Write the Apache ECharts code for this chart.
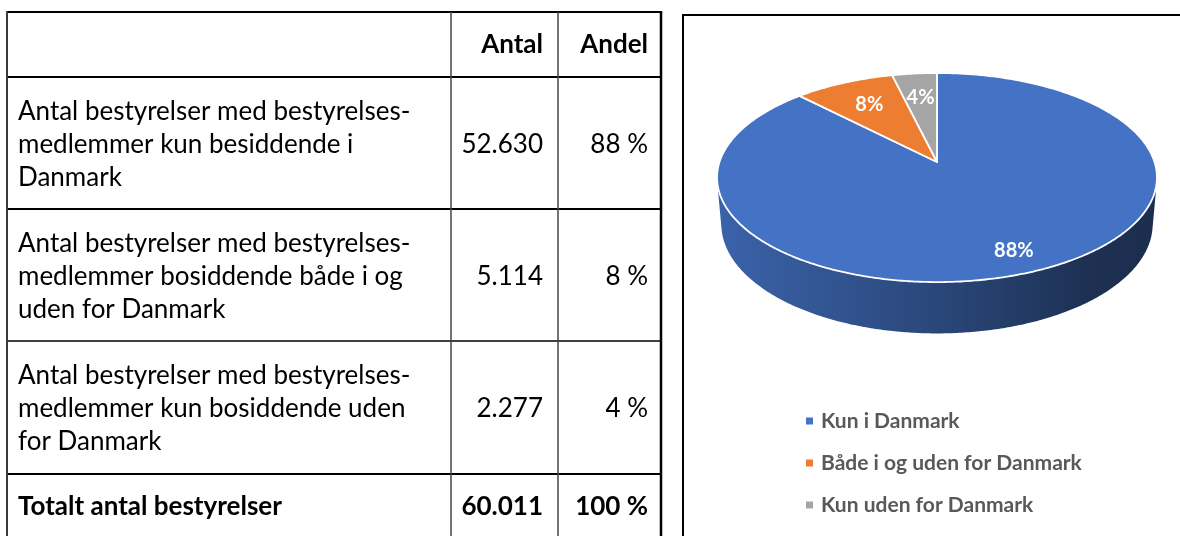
<!DOCTYPE html>
<html><head><meta charset="utf-8">
<script src="https://cdn.jsdelivr.net/npm/echarts@6/dist/echarts.min.js"></script>
<style>html,body{margin:0;padding:0;background:#fff}#c{width:1180px;height:536px}</style>
</head><body><div id="c"></div>
<script>
// ---------- data ----------
const headers = ["Antal", "Andel"];
const rowLabels = [
  "Antal bestyrelser med bestyrelses-\nmedlemmer kun besiddende i\nDanmark",
  "Antal bestyrelser med bestyrelses-\nmedlemmer bosiddende både i og\nuden for Danmark",
  "Antal bestyrelser med bestyrelses-\nmedlemmer kun bosiddende uden\nfor Danmark"
];
const counts = [52630, 5114, 2277];
const shares = [88, 8, 4];
const totalLabel = "Totalt antal bestyrelser";
const totalCount = 60011;
const totalShare = 100;
const categories = ["Kun i Danmark", "Både i og uden for Danmark", "Kun uden for Danmark"];
const colors = ["#4472C4", "#ED7D31", "#A5A5A5"];

// ---------- helpers ----------
const fmt = n => String(n).replace(/\B(?=(\d{3})+(?!\d))/g, ".");
const FONT = "Lato";
const TS = 26;
function shade(hex, f) {
  const n = parseInt(hex.slice(1), 16);
  const r = Math.round(((n >> 16) & 255) * f), g = Math.round(((n >> 8) & 255) * f), b = Math.round((n & 255) * f);
  return "rgb(" + r + "," + g + "," + b + ")";
}

// ---------- table (graphic) ----------
const colX = [7, 451, 558, 661];
const rowY = [12, 77, 209, 341, 474];
const gfx = [];
function line(x1, y1, x2, y2, w, c) {
  gfx.push({ type: "line", shape: { x1, y1, x2, y2 }, style: { stroke: c, lineWidth: w }, silent: true });
}
function text(t, x, y, opt) {
  gfx.push({ type: "text", x, y, silent: true, style: Object.assign({
    text: t, fill: "#000", font: TS + "px " + FONT, align: "left", verticalAlign: "middle", lineHeight: 33
  }, opt || {}) });
}
line(colX[0], rowY[0], colX[3] + 1, rowY[0], 2, "#000");
line(colX[0], rowY[1], colX[3] + 1, rowY[1], 2, "#000");
line(colX[0], rowY[2], colX[3] + 1, rowY[2], 2, "#000");
line(colX[0], rowY[3], colX[3] + 1, rowY[3], 1.5, "#000");
line(colX[0], rowY[4], colX[3] + 1, rowY[4], 2, "#000");
line(colX[0], rowY[0] - 1, colX[0], 545, 2, "#3a3a3a");
line(colX[1], rowY[0], colX[1], 545, 1.5, "#444");
line(colX[2], rowY[0], colX[2], 545, 1.5, "#444");
line(colX[3], rowY[0] - 1, colX[3], 545, 2.5, "#000");
// chart frame
gfx.push({ type: "rect", shape: { x: 683, y: 15, width: 520, height: 540 }, style: { fill: "none", stroke: "#000", lineWidth: 2 }, silent: true });

const numRight = 543, pctRight = 648;
const BOLD = "bold " + TS + "px " + FONT;
text(headers[0], numRight, 45, { font: BOLD, align: "right" });
text(headers[1], pctRight, 45, { font: BOLD, align: "right" });
for (let i = 0; i < rowLabels.length; i++) {
  const cy = (rowY[i + 1] + rowY[i + 2]) / 2 + 1.5;
  text(rowLabels[i], 18, cy);
  text(fmt(counts[i]), numRight, cy, { align: "right" });
  text(shares[i] + " %", pctRight, cy, { align: "right" });
}
text(totalLabel, 18, 507, { font: BOLD });
text(fmt(totalCount), numRight, 507, { font: BOLD, align: "right" });
text(totalShare + " %", pctRight, 507, { font: BOLD, align: "right" });

// ---------- 3D-looking pie (custom series) ----------
const P = { cx: 937, cy: 162, F: 1292, D: 5.94, sa: 0.47, h: 0.245 };
P.ca = Math.sqrt(1 - P.sa * P.sa);
function proj(u, v, z) {
  const depth = P.D + v * P.ca - z * P.sa;
  return [P.cx + P.F * u / depth, P.cy - P.F * (v * P.sa + z * P.ca) / depth];
}
const rim = (th, z) => proj(Math.sin(th), Math.cos(th), z);
const total = counts.reduce((a, b) => a + b, 0);
const starts = [];
{ let acc = 0; counts.forEach(v => { starts.push(acc / total * 2 * Math.PI); acc += v; }); }
const visA = Math.acos(-1 / (P.D * P.ca)), visB = 2 * Math.PI - visA;
const left = rim(-Math.PI / 2, 0)[0] - 5, right = rim(Math.PI / 2, 0)[0] + 5;

function sample(a, b, z) {
  const n = Math.max(2, Math.ceil((b - a) / 0.01));
  const pts = [];
  for (let k = 0; k <= n; k++) pts.push(rim(a + (b - a) * k / n, z));
  return pts;
}

function makeRender(i) {
  return function (params, api) {
    const a0 = starts[i], a1 = a0 + counts[i] / total * 2 * Math.PI;
    const children = [];
    const s0 = Math.max(a0, visA), s1 = Math.min(a1, visB);
    if (s1 > s0) {
      const top = sample(s0, s1, 0), bot = sample(s0, s1, -P.h).reverse();
      children.push({
        type: "polygon", z2: 1,
        shape: { points: top.concat(bot) },
        style: {
          fill: new echarts.graphic.LinearGradient(left, 0, right, 0, [
            { offset: 0, color: shade(colors[i], 0.87) },
            { offset: 0.5, color: shade(colors[i], 0.62) },
            { offset: 0.85, color: shade(colors[i], 0.42) },
            { offset: 1, color: shade(colors[i], 0.4) }
          ], true)
        }
      });
    }
    const face = [proj(0, 0, 0)].concat(sample(a0, a1, 0));
    children.push({
      type: "polygon", z2: 2, shape: { points: face },
      style: { fill: colors[i], stroke: "#fff", lineWidth: 1.8, lineJoin: "round" }
    });
    const m = (a0 + a1) / 2, r = counts[i] / total > 0.5 ? 0.83 : 0.7;
    const lp = proj(r * Math.sin(m), r * Math.cos(m), 0);
    children.push({
      type: "text", z2: 3, x: lp[0], y: lp[1],
      style: { text: shares[i] + "%", fill: "#fff", font: "bold 20px " + FONT, align: "center", verticalAlign: "middle" }
    });
    return { type: "group", children };
  };
}

const series = categories.map((name, i) => ({
  type: "custom", name, coordinateSystem: "none",
  itemStyle: { color: colors[i] },
  data: [counts[i]],
  renderItem: makeRender(i),
  animation: false, silent: true
}));

const chart = echarts.init(document.getElementById("c"), null, { renderer: "canvas" });
chart.setOption({
  backgroundColor: "#fff",
  animation: false,
  legend: {
    orient: "vertical", left: 801, top: 405,
    icon: "rect", itemWidth: 7, itemHeight: 7, itemGap: 20,
    data: categories,
    textStyle: { fontFamily: FONT, fontWeight: "bold", fontSize: 21, color: "#595959", lineHeight: 22, padding: [0, 0, 0, 3] },
    selectedMode: false
  },
  graphic: { elements: gfx },
  series
});
</script></body></html>
